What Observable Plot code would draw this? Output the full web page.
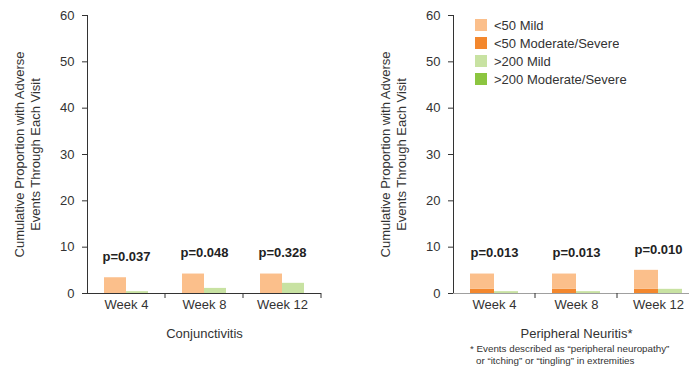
<!DOCTYPE html>
<html>
<head>
<meta charset="utf-8">
<script src="https://cdn.jsdelivr.net/npm/d3@7"></script>
<script src="https://cdn.jsdelivr.net/npm/@observablehq/plot@0.6"></script>
<style>
  html, body { margin: 0; padding: 0; background: #fff; overflow: hidden; }
  #chart { position: relative; width: 689px; height: 366px; overflow: hidden;
           font-family: "Liberation Sans", Arial, Helvetica, sans-serif; color: #333; }
  #left, #right { position: absolute; top: 0; }
  #left { left: 0; width: 340px; }
  #right { left: 340px; width: 359px; }
  #left svg, #right svg { max-width: none !important; }
  #legend { position: absolute; left: 475px; top: 16px; }
  .lg-swatch { height: 18px; padding: 0 !important; margin: 0 !important; }
  .lg-swatch svg { margin-right: 7px !important; }
  #note { position: absolute; left: 470px; top: 343px; font-size: 9.8px; line-height: 12px; color: #333; }
  #note div + div { padding-left: 6px; }
</style>
</head>
<body>
<div id="chart">
  <div id="left"></div>
  <div id="right"></div>
  <div id="legend"></div>
  <div id="note">
    <div>* Events described as “peripheral neuropathy”</div>
    <div>or “itching” or “tingling” in extremities</div>
  </div>
</div>
<script>
// Visits and CD4 groups / severity series
const weeks = ["Week 4", "Week 8", "Week 12"];
const series = ["<50 Mild", "<50 Moderate/Severe", ">200 Mild", ">200 Moderate/Severe"];
const seriesColors = ["#fbbf8b", "#f3872d", "#c8e2a2", "#8cc540"];
const yTicks = [0, 10, 20, 30, 40, 50, 60];
const yTitle = "Cumulative Proportion with Adverse\nEvents Through Each Visit";

// Conjunctivitis: cumulative % with adverse events
const conjLt50Mild = [3.4, 4.2, 4.2];
const conjLt50Mod = [0, 0, 0];
const conjGt200Mild = [0.4, 1.1, 2.2];
const conjGt200Mod = [0, 0, 0];
const conjP = ["p=0.037", "p=0.048", "p=0.328"];

// Peripheral neuritis: cumulative % with adverse events
const neurLt50Mild = [3.3, 3.3, 4.1];
const neurLt50Mod = [0.9, 0.9, 0.9];
const neurGt200Mild = [0.4, 0.4, 0.9];
const neurGt200Mod = [0, 0, 0];
const neurP = ["p=0.013", "p=0.013", "p=0.010"];

// Long-format rows; moderate/severe first so it stacks at the bottom
function toRows(mild50, mod50, mild200, mod200) {
  const rows = [];
  weeks.forEach((week, i) => {
    rows.push({week, group: "<50", series: series[1], value: mod50[i]});
    rows.push({week, group: "<50", series: series[0], value: mild50[i]});
    rows.push({week, group: ">200", series: series[3], value: mod200[i]});
    rows.push({week, group: ">200", series: series[2], value: mild200[i]});
  });
  return rows;
}

function panel({data, pvals, title, width, marginLeft, marginRight, baseColor}) {
  // p-value labels sit above the taller stacked bar of each visit
  const labels = weeks.map((week, i) => ({
    week,
    p: pvals[i],
    top: d3.max(d3.rollups(data.filter(d => d.week === week), v => d3.sum(v, d => d.value), d => d.group), d => d[1])
  }));
  const plot = Plot.plot({
    width, height: 366,
    marginLeft, marginRight, marginTop: 15, marginBottom: 73,
    style: {fontFamily: "Liberation Sans, Arial, Helvetica, sans-serif", fontSize: "13px", color: "#333", background: "transparent", overflow: "visible"},
    fx: {domain: weeks, padding: 0, label: title, labelAnchor: "center", labelOffset: 44, tickSize: 0, tickPadding: 6},
    x: {domain: ["<50", ">200"], paddingInner: 0, paddingOuter: 0.7, axis: null},
    y: {domain: [0, 60], ticks: yTicks, tickSize: 5, tickPadding: 8, line: true, label: null},
    color: {domain: series, range: seriesColors},
    marks: [
      Plot.barY(data, {fx: "week", x: "group", y: "value", fill: "series"}),
      Plot.ruleY([0], {stroke: baseColor}),
      Plot.text(labels, {fx: "week", y: "top", text: "p", dy: -21, fontWeight: "bold", fontSize: 13, fill: "#222"}),
      Plot.text([yTitle], {fx: () => weeks[0], frameAnchor: "left", textAnchor: "middle", rotate: -90, dx: -61, lineHeight: 1.25, fontSize: 13, fill: "#333"})
    ]
  });
  // small separator ticks between visits on the category axis
  const fx = plot.scale("fx");
  const y0 = plot.scale("y").apply(0);
  const svg = d3.select(plot);
  weeks.forEach(w => {
    const xr = fx.apply(w) + fx.bandwidth;
    svg.append("line")
      .attr("x1", xr).attr("x2", xr)
      .attr("y1", y0).attr("y2", y0 + 5)
      .attr("stroke", "#333");
  });
  return plot;
}

document.getElementById("left").append(panel({
  data: toRows(conjLt50Mild, conjLt50Mod, conjGt200Mild, conjGt200Mod),
  pvals: conjP, title: "Conjunctivitis",
  width: 340, marginLeft: 86, marginRight: 19, baseColor: "#333"
}));

document.getElementById("right").append(panel({
  data: toRows(neurLt50Mild, neurLt50Mod, neurGt200Mild, neurGt200Mod),
  pvals: neurP, title: "Peripheral Neuritis*",
  width: 359, marginLeft: 113, marginRight: 0, baseColor: "#a0a0a0"
}));

document.getElementById("legend").append(Plot.legend({
  color: {domain: series, range: seriesColors},
  legend: "swatches",
  columns: 1,
  swatchSize: 12,
  className: "lg",
  style: {fontFamily: "Liberation Sans, Arial, Helvetica, sans-serif", fontSize: "13px", color: "#333", margin: "0"}
}));
</script>
</body>
</html>
